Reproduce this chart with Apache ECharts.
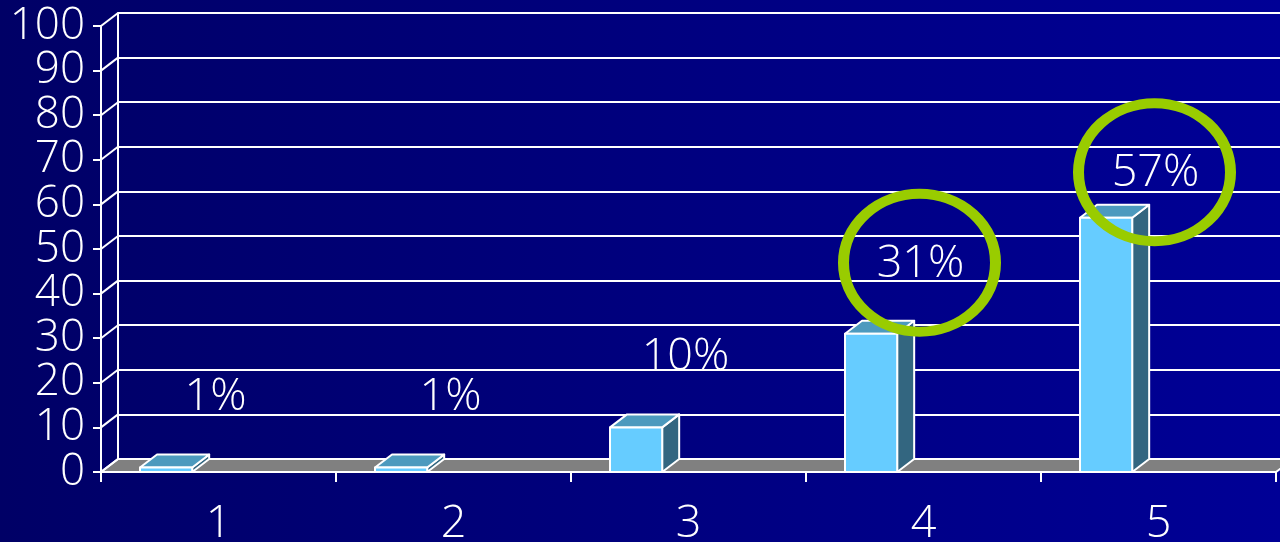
<!DOCTYPE html>
<html><head><meta charset="utf-8">
<script src="https://cdn.jsdelivr.net/npm/echarts@6/dist/echarts.min.js"></script>
<style>html,body{margin:0;padding:0;background:#000066}#c{width:1280px;height:542px}</style>
</head><body><div id="c"></div>
<script>
const categories = ['1', '2', '3', '4', '5'];
const values = [1, 1, 10, 31, 57];
const valueLabels = ['1%', '1%', '10%', '31%', '57%'];
const highlighted = [false, false, false, true, true];
const yTickValues = [0, 10, 20, 30, 40, 50, 60, 70, 80, 90, 100];

const FONT = 'Open Sans';
const WEIGHT = 300;
const DX = 17, DY = -13;

const chart = echarts.init(document.getElementById('c'));

function frameRender(params, api) {
  const v = api.value(0);
  const band = api.size([1, 0])[0];
  const p = api.coord([0, v]);
  const x = p[0] - band / 2;
  const children = [{
    type: 'line', shape: {x1: x, y1: p[1], x2: x + DX, y2: p[1] + DY},
    style: {stroke: '#fff', lineWidth: 2}
  }];
  if (params.dataIndex === 0) {
    const pr = api.coord([categories.length - 1, 0]);
    const xr = pr[0] + band / 2;
    children.unshift({
      type: 'polygon',
      shape: {points: [[x, p[1]], [xr, p[1]], [xr + DX, p[1] + DY], [x + DX, p[1] + DY]]},
      style: {fill: '#808080', stroke: '#fff', lineWidth: 2}
    });
  }
  return {type: 'group', children};
}

function barRender(params, api) {
  const i = params.dataIndex;
  const v = api.value(1);
  const band = api.size([1, 0])[0];
  const top = api.coord([i, v]);
  const base = api.coord([i, 0]);
  const c = top[0];
  const bw = band * 0.222;
  const x0 = c - band * 0.334;
  const x1 = x0 + bw;
  const yT = top[1], yB = base[1];
  const st = {stroke: '#fff', lineWidth: 2, lineJoin: 'round'};
  const children = [
    {type: 'polygon', shape: {points: [[x1, yT], [x1 + DX, yT + DY], [x1 + DX, yB + DY], [x1, yB]]},
     style: Object.assign({fill: '#336680'}, st)},
    {type: 'polygon', shape: {points: [[x0, yT], [x0 + DX, yT + DY], [x1 + DX, yT + DY], [x1, yT]]},
     style: Object.assign({fill: '#4C9ABE'}, st)},
    {type: 'rect', shape: {x: x0, y: yT, width: bw, height: yB - yT},
     style: Object.assign({fill: '#66CCFF'}, st)}
  ];
  const labelY = Math.max(yT - 70, api.coord([i, 67])[1]);
  children.push({
    type: 'text', x: c - 3, y: labelY,
    style: {text: valueLabels[i], fill: '#fff', font: WEIGHT + ' 45px "' + FONT + '"', align: 'center', verticalAlign: 'middle'}
  });
  if (highlighted[i]) {
    children.push({
      type: 'circle', x: c - 4, y: labelY - 1, scaleX: 76 / 69,
      shape: {cx: 0, cy: 0, r: 69},
      style: {fill: 'none', stroke: '#99CC00', lineWidth: 10, strokeNoScale: true}
    });
  }
  return {type: 'group', children};
}

chart.setOption({
  animation: false,
  backgroundColor: new echarts.graphic.LinearGradient(0, 0, 1, 0, [
    {offset: 0, color: '#000066'}, {offset: 1, color: '#000096'}
  ]),
  grid: [
    {left: 101, right: 4, top: 26, bottom: 70, outerBoundsMode: 'none', containLabel: false},
    {left: 118, right: 0, top: 13, bottom: 83, outerBoundsMode: 'none', containLabel: false}
  ],
  xAxis: [
    {type: 'category', gridIndex: 0, data: categories, boundaryGap: true,
     axisLine: {show: true, lineStyle: {color: '#fff', width: 2}},
     axisTick: {show: true, length: 10, lineStyle: {color: '#fff', width: 2}},
     axisLabel: {color: '#fff', fontSize: 45, fontFamily: FONT, fontWeight: WEIGHT, margin: 30},
     z: 5},
    {type: 'category', gridIndex: 1, data: categories, show: false}
  ],
  yAxis: [
    {type: 'value', gridIndex: 0, min: 0, max: 100, interval: 10,
     axisLine: {show: true, lineStyle: {color: '#fff', width: 2}},
     axisTick: {show: true, length: 8, lineStyle: {color: '#fff', width: 2}},
     axisLabel: {color: '#fff', fontSize: 44, fontFamily: FONT, fontWeight: WEIGHT, margin: 16},
     splitLine: {show: false}, z: 5},
    {type: 'value', gridIndex: 1, min: 0, max: 100, interval: 10,
     axisLine: {show: true, lineStyle: {color: '#fff', width: 2}},
     axisTick: {show: false}, axisLabel: {show: false},
     splitLine: {show: true, lineStyle: {color: '#fff', width: 2}}, z: 1}
  ],
  series: [
    {type: 'custom', xAxisIndex: 0, yAxisIndex: 0, z: 3,
     data: yTickValues.map(v => [v]), renderItem: frameRender, silent: true},
    {type: 'custom', xAxisIndex: 0, yAxisIndex: 0, z: 6,
     data: values.map((v, i) => [i, v]), renderItem: barRender, silent: true}
  ]
});
</script></body></html>
